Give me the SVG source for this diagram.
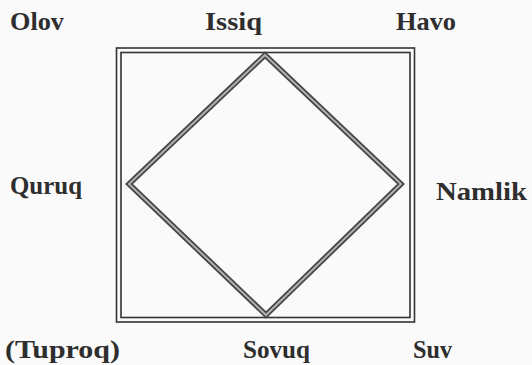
<svg xmlns="http://www.w3.org/2000/svg" width="532" height="365" viewBox="0 0 532 365">
<style>
.lbl{font-family:"Liberation Serif","Times New Roman",serif;font-weight:bold;font-size:25px;fill:#2e2e2e}
.frame{fill:none;stroke:#333;stroke-width:1.6}
.dia-o{fill:none;stroke:#444;stroke-width:5.5;stroke-linejoin:miter}
.dia-i{fill:none;stroke:#b0b0b0;stroke-width:2;stroke-linejoin:miter}
</style>
<rect width="532" height="365" fill="#fafafa"/>
<g id="frame">
<rect class="frame" x="116.5" y="48" width="298" height="274"/>
<rect class="frame" x="121" y="52.5" width="289" height="265"/>
</g>
<g id="connectors">
<polygon class="dia-o" points="265,55 401,184 266,315 129,184"/>
<polygon class="dia-i" points="265,55 401,184 266,315 129,184"/>
</g>
<g id="n-olov"><text class="lbl" x="10" y="30" textLength="54" lengthAdjust="spacingAndGlyphs">Olov</text></g>
<g id="n-issiq"><text class="lbl" x="205" y="30" textLength="57" lengthAdjust="spacingAndGlyphs">Issiq</text></g>
<g id="n-havo"><text class="lbl" x="396" y="30" textLength="60" lengthAdjust="spacingAndGlyphs">Havo</text></g>
<g id="n-quruq"><text class="lbl" x="10" y="194" textLength="72" lengthAdjust="spacingAndGlyphs">Quruq</text></g>
<g id="n-namlik"><text class="lbl" x="436" y="200" textLength="91" lengthAdjust="spacingAndGlyphs">Namlik</text></g>
<g id="n-tuproq"><text class="lbl" x="5" y="358" textLength="115" lengthAdjust="spacingAndGlyphs">(Tuproq)</text></g>
<g id="n-sovuq"><text class="lbl" x="243" y="358" textLength="67" lengthAdjust="spacingAndGlyphs">Sovuq</text></g>
<g id="n-suv"><text class="lbl" x="413" y="358" textLength="39" lengthAdjust="spacingAndGlyphs">Suv</text></g>
</svg>
